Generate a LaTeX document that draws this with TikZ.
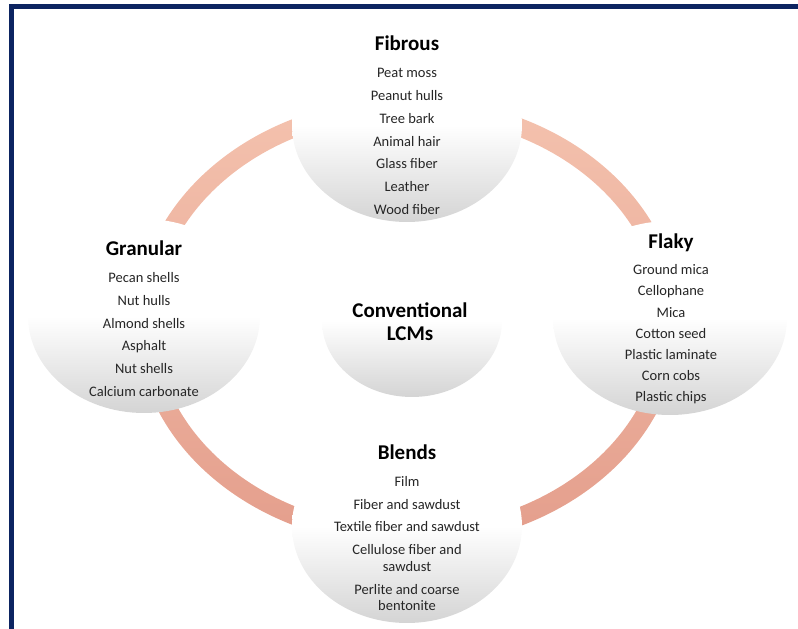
\documentclass[tikz,border=0pt]{standalone}
\usepackage{fontspec}
\setmainfont{Carlito}
\usepackage{tikz}
\usetikzlibrary{shapes.geometric}

\definecolor{framenavy}{RGB}{12,36,97}
\definecolor{ringlight}{RGB}{244,194,174}
\definecolor{ringdark}{RGB}{228,158,140}
\definecolor{bubblegray}{RGB}{212,212,212}
\definecolor{itemtext}{RGB}{38,38,38}

\begin{document}
\begin{tikzpicture}[x=1pt,y=1pt,
  bubble/.style={ellipse, minimum width=230pt, minimum height=194pt,
    top color=white, bottom color=bubblegray, middle color=white},
  heading/.style={align=center, font=\fontsize{21}{23}\selectfont\bfseries},
  itemlist/.style={align=center, text=itemtext, font=\fontsize{14.5}{#1}\selectfont},
  itemlist/.default=22.8]
\useasboundingbox (0,0) rectangle (798,629);

\coordinate (hub) at (408,307);
\path[top color=ringlight, bottom color=ringdark, even odd rule]
  (hub) ellipse [x radius=272, y radius=224]
  (hub) ellipse [x radius=253, y radius=206];

\node[bubble] (fibrous) at (407,504) {};
\node[bubble, minimum width=232pt] (granular) at (144,313) {};
\node[bubble, minimum width=234pt] (flaky) at (670,311) {};
\node[bubble] (blends) at (407,103) {};
\node[bubble, minimum width=180pt, minimum height=152pt] (conv) at (412,308) {};

\node[heading] (fibroustitle) at (407,586) {Fibrous};
\node[itemlist] (fibrouslist) at (407,487.5) {Peat moss\\Peanut hulls\\Tree bark\\Animal hair\\Glass fiber\\Leather\\Wood fiber};

\node[heading] (granulartitle) at (144,381) {Granular};
\node[itemlist] (granularlist) at (144,294.5) {Pecan shells\\Nut hulls\\Almond shells\\Asphalt\\Nut shells\\Calcium carbonate};

\node[heading] (flakytitle) at (671,386) {Flaky};
\node[itemlist=21.2] (flakylist) at (671,294.5) {Ground mica\\Cellophane\\Mica\\Cotton seed\\Plastic laminate\\Corn cobs\\Plastic chips};

\node[heading] (blendstitle) at (407,177) {Blends};
\node[itemlist] (blendslist) at (407,85.5) {Film\\Fiber and sawdust\\Textile fiber and sawdust\\Cellulose fiber and\\[-6.3pt]sawdust\\Perlite and coarse\\[-6.3pt]bentonite};

\node[heading] (convtitle) at (410,307.5) {Conventional\\LCMs};

\draw[framenavy, line width=4.5pt] (798,622.7) -- (11.3,622.7) -- (11.3,0);
\end{tikzpicture}
\end{document}
